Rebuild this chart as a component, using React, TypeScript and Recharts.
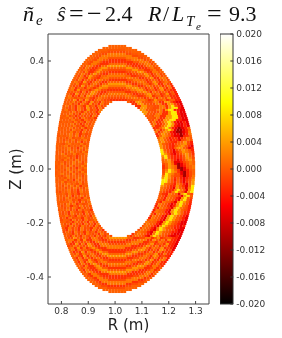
import { ScatterChart, Scatter, XAxis, YAxis, BarChart, Bar } from 'recharts'

// fluctuation level for each digit used in the map rows below
const LEVELS = [-0.0105, -0.0065, -0.0035, -0.0025, -0.001, -0.0002, 0.0004, 0.0018, 0.0036, 0.0085]

const R_TICKS = [0.8, 0.9, 1.0, 1.1, 1.2, 1.3]
const Z_TICKS = [-0.4, -0.2, 0.0, 0.2, 0.4]
const BAR_TICKS = [-0.02, -0.016, -0.012, -0.008, -0.004, 0, 0.004, 0.008, 0.012, 0.016, 0.02]

// matplotlib "hot"
const HOT_STOPS: [number, number[]][] = [
  [0, [0, 0, 0]],
  [0.365, [255, 0, 0]],
  [0.746, [255, 255, 0]],
  [1, [255, 255, 255]],
]

// Z of the first row and step between rows
const Z0 = 0.4556
const DZ = 0.007407
const PX_PER_R = 268.33

// boundary for the upper half, top to midplane (shape is up-down symmetric)
const OUTER_L = [
  0.975, 0.953, 0.936, 0.924, 0.914, 0.905, 0.896, 0.889, 0.883, 0.877, 0.871, 0.866, 0.861, 0.856, 0.852, 0.848,
  0.844, 0.84, 0.836, 0.833, 0.83, 0.827, 0.824, 0.821, 0.818, 0.816, 0.813, 0.811, 0.809, 0.807, 0.804, 0.803,
  0.801, 0.799, 0.797, 0.795, 0.794, 0.793, 0.791, 0.79, 0.789, 0.787, 0.787, 0.785, 0.784, 0.783, 0.782, 0.782,
  0.781, 0.78, 0.779, 0.779, 0.779, 0.778, 0.778, 0.777, 0.777, 0.777, 0.776, 0.776, 0.776, 0.776,
]
const OUTER_R = [
  1.041, 1.062, 1.082, 1.097, 1.108, 1.119, 1.129, 1.138, 1.147, 1.154, 1.161, 1.168, 1.175, 1.181, 1.187, 1.192,
  1.198, 1.203, 1.208, 1.213, 1.217, 1.222, 1.226, 1.23, 1.234, 1.237, 1.241, 1.245, 1.248, 1.251, 1.254, 1.257,
  1.26, 1.262, 1.265, 1.267, 1.27, 1.272, 1.274, 1.276, 1.278, 1.28, 1.282, 1.283, 1.285, 1.286, 1.287, 1.289,
  1.29, 1.291, 1.292, 1.293, 1.294, 1.295, 1.296, 1.296, 1.297, 1.297, 1.298, 1.298, 1.298, 1.298,
]
// hole edges, from row 28 on
const HOLE_FIRST_ROW = 28
const HOLE_L = [
  0.989, 0.977, 0.968, 0.96, 0.953, 0.947, 0.942, 0.937, 0.933, 0.93, 0.926, 0.923, 0.92, 0.917, 0.915, 0.913,
  0.911, 0.909, 0.907, 0.906, 0.904, 0.903, 0.902, 0.901, 0.9, 0.899, 0.898, 0.897, 0.896, 0.896, 0.896, 0.895,
  0.895, 0.895,
]
const HOLE_R = [
  1.044, 1.061, 1.074, 1.083, 1.092, 1.1, 1.106, 1.112, 1.118, 1.123, 1.128, 1.132, 1.136, 1.14, 1.144, 1.147,
  1.15, 1.153, 1.156, 1.159, 1.161, 1.163, 1.165, 1.167, 1.168, 1.169, 1.171, 1.172, 1.173, 1.173, 1.174, 1.175,
  1.175, 1.175,
]

// one row per Z: cells across the span, or left and right of the hole
const ROWS: string[][] = [
  ['666666'],
  ['6666666666'],
  ['6665555556666'],
  ['665544444455666'],
  ['66544777777445566'],
  ['6654777777777744556'],
  ['665477755555577774456'],
  ['66547755333333557777456'],
  ['65477533333333335577745'],
  ['6647753336666663333557746'],
  ['65775336688888866333357756'],
  ['64753368866666688663335745'],
  ['6575336866444444668866335746'],
  ['664733686443333334466886337756'],
  ['657536864336666663344668635745'],
  ['6473686436677777766334468635746'],
  ['65753864367755555577663346833775'],
  ['64736643675533333355776634663574'],
  ['675384367533666666335577634863575'],
  ['65736636753668888886633557636833743'],
  ['64538467536887777778866335764663573'],
  ['67366375368774444447788663573486372'],
  ['673846536874433333344778863563683532'],
  ['556637368743355555533447786376466352'],
  ['6438465687435577777755334478657348352'],
  ['67363738743577666666775533478356366332'],
  ['67646567435766444444667755347637648332'],
  ['655837384357644333333446677534865736622'],
  ['565746375384637456', '6338855447733884211'],
  ['6574637538463745', '33885544773388421'],
  ['574637538463745', '3388554477389521'],
  ['65463753846374', '388554477389921'],
  ['5746375384637', '8855447738992211'],
  ['65657463754637', '885544733899211'],
  ['5657463755463', '85547733899211'],
  ['6574635546375', '55477338899211'],
  ['565746375463', '5547338899211'],
  ['656574637546', '5473388992211'],
  ['565647463756', '4733689821121'],
  ['656574635646', '5733689821121'],
  ['565657463756', '733689821121'],
  ['656574647365', '336897210126'],
  ['565647563746', '4736897100126'],
  ['65657463756', '736872100127'],
  ['56567473645', '368752110127'],
  ['56567573645', '368752110236'],
  ['65647465756', '687523312475'],
  ['56465746575', '786423314575'],
  ['56575647365', '78643256842'],
  ['65467565746', '86432467842'],
  ['65674656475', '86432578631'],
  ['56567463756', '864326886412'],
  ['65657565647', '96431468752'],
  ['56465756475', '97431368753'],
  ['56746574657', '98521347863'],
  ['65675463566', '89632235864'],
  ['65657463566', '79632235874'],
  ['56475647565', '67842124786'],
  ['65646575746', '67851124676'],
  ['65746575647', '46861013576'],
  ['56564746575', '36875012567'],
  ['56567463657', '35875001467'],
  ['65647565746', '47986301256'],
  ['56565746475', '48987310246'],
  ['56756474657', '59874410246'],
  ['65467565646', '79864420247'],
  ['65647565756', '89863521247'],
  ['56574637565', '99752631358'],
  ['65746565746', '99753631358'],
  ['65657564746', '97642752168'],
  ['56475747365', '87532863169'],
  ['65646575647', '76431864179'],
  ['56567463756', '764327975189'],
  ['54657463756', '64327975189'],
  ['65647463656', '53276518964'],
  ['65647365746', '54276531896'],
  ['56475646375', '642765218964'],
  ['65467463657', '542765218963'],
  ['65657463746', '427653189863'],
  ['56475736457', '376531289752'],
  ['64573647564', '276531289752'],
  ['654647537465', '4276531897642'],
  ['565746374653', '276521898642'],
  ['646375463745', '376521898632'],
  ['546375463745', '5276521898632'],
  ['657463745637', '3765218986421'],
  ['463745637457', '2765218986421'],
  ['465374637457', '5765218986421'],
  ['5646375463745', '76652189864311'],
  ['6463745374637', '67652189864211'],
  ['65374637546374', '576521798643212'],
  ['5374637453746', '4765217986542211'],
  ['53746374537463', '476521798654211'],
  ['465374637463754', '6765217986542211'],
  ['5653746375463745', '36765217986542111'],
  ['653746375463745374', '6367652179865421121'],
  ['644864663774366888888663344773683465321'],
  ['67737383377433666666334477733864738321'],
  ['67356466337744333333447777336637653321'],
  ['6338373863377744444477773336834638321'],
  ['447564686337777777777333368647357321'],
  ['673837368633377777733336686376583421'],
  ['67375643686333333333366886346387341'],
  ['63438374368663333336688663473573432'],
  ['64737567436886666668866334765833732'],
  ['674383674366888888663344763873432'],
  ['63737536743366666633447763573472'],
  ['64743853674433333344776635833772'],
  ['6373785367744444477663358734732'],
  ['647437853667777776633558734733'],
  ['663733785336666663355887337743'],
  ['6474337855333333558877334736'],
  ['63743378855555588773334734'],
  ['64774337788888877333347746'],
  ['6637743337777773333447736'],
  ['64377433333333334477734'],
  ['66437744333333447777346'],
  ['664377744444477773346'],
  ['6643777777777733446'],
  ['66433777777334466'],
  ['664433333344666'],
  ['6664444446666'],
  ['6666666666'],
  ['666666'],
]

type MapPoint = { R: number; Z: number; v: number; w: number }

function spanCells(cells: string, a: number, b: number, Z: number, out: MapPoint[]) {
  const w = (b - a) / cells.length
  for (let c = 0; c < cells.length; c++) {
    out.push({ R: a + (c + 0.5) * w, Z, v: LEVELS[Number(cells[c])], w })
  }
}

const CELLS = ROWS.flatMap((row, n) => {
  const out: MapPoint[] = []
  const u = Math.min(n, ROWS.length - 1 - n) // same boundary above and below the midplane
  const Z = Z0 - n * DZ
  if (row.length === 1) {
    spanCells(row[0], OUTER_L[u], OUTER_R[u], Z, out)
  } else {
    spanCells(row[0], OUTER_L[u], HOLE_L[u - HOLE_FIRST_ROW], Z, out)
    spanCells(row[1], HOLE_R[u - HOLE_FIRST_ROW], OUTER_R[u], Z, out)
  }
  return out
})

function hotColor(v: number) {
  const f = (v + 0.02) / 0.04
  for (let i = 1; i < HOT_STOPS.length; i++) {
    const [f1, c1] = HOT_STOPS[i]
    const [f0, c0] = HOT_STOPS[i - 1]
    if (f <= f1) {
      const t = (f - f0) / (f1 - f0)
      const m = c0.map((a, k) => Math.round(a + (c1[k] - a) * t))
      return `rgb(${m[0]},${m[1]},${m[2]})`
    }
  }
  return '#fff'
}

function MapCell(props: any) {
  const px = props.payload.w * PX_PER_R
  return (
    <rect
      x={props.cx - px / 2}
      y={props.cy - 1.05}
      width={px + 0.1}
      height={2.1}
      fill={hotColor(props.payload.v)}
    />
  )
}

const tickStyle = { fontSize: 9, fill: '#333', fontFamily: 'DejaVu Sans' }
const labelStyle = { fontSize: 15, fill: '#222', fontFamily: 'DejaVu Sans' }
const mathFont = 'Liberation Serif'

function Title() {
  const big = { fontSize: 22, fontFamily: mathFont, fill: '#111' }
  const it = { ...big, fontStyle: 'italic' }
  return (
    <svg width={282} height={34} style={{ position: 'absolute', left: 0, top: 0 }}>
      <text x={23} y={21} {...it}>ñ</text>
      <text x={36} y={25} {...it} fontSize={15}>e</text>
      <text x={57} y={21} {...it}>ŝ</text>
      <text x={69} y={22} {...big} fontSize={26}>=</text>
      <text x={87} y={22} {...big} fontSize={26}>−</text>
      <text x={105} y={21} {...big}>2.4</text>
      <text x={148} y={21} {...it}>R</text>
      <text x={163} y={21} {...big}>/</text>
      <text x={172} y={21} {...it}>L</text>
      <text x={186} y={26} {...it} fontSize={15}>T</text>
      <text x={196} y={30} {...it} fontSize={11}>e</text>
      <text x={207} y={22} {...big} fontSize={26}>=</text>
      <text x={229} y={21} {...big}>9.3</text>
    </svg>
  )
}

const BAR_DATA = [{ name: 'n', range: [-0.02, 0.02] }]

export default function App() {
  return (
    <div style={{ position: 'absolute', left: 0, top: 0, width: 282, height: 338, filter: 'blur(0.3px)' }}>
      <style>{`.map-cells { filter: blur(0.5px); }`}</style>
      <Title />

      {/* Map */}
      <div style={{ position: 'absolute', left: 0, top: 0 }}>
        <ScatterChart width={282} height={338} margin={{ top: 33, right: 72, bottom: 0, left: 0 }}>
          <XAxis
            type="number"
            dataKey="R"
            domain={[0.75, 1.35]}
            ticks={R_TICKS}
            interval={0}
            tickFormatter={(v) => v.toFixed(1)}
            height={34}
            tickSize={-3}
            tickMargin={7}
            tick={tickStyle}
            stroke="#444"
            label={{ value: 'R (m)', position: 'insideBottom', offset: 8, style: labelStyle }}
          />
          <YAxis
            type="number"
            dataKey="Z"
            domain={[-0.5, 0.5]}
            ticks={Z_TICKS}
            interval={0}
            tickFormatter={(v) => v.toFixed(1)}
            width={48}
            tickSize={-3}
            tickMargin={7}
            tick={tickStyle}
            stroke="#444"
            label={{ value: 'Z (m)', angle: -90, position: 'insideLeft', offset: 16, style: { ...labelStyle, textAnchor: 'middle' } }}
          />
          <XAxis
            xAxisId="top"
            orientation="top"
            type="number"
            domain={[0.75, 1.35]}
            ticks={R_TICKS}
            interval={0}
            height={1}
            tickSize={-3}
            tickFormatter={() => ''}
            stroke="#444"
          />
          <YAxis
            yAxisId="right"
            orientation="right"
            type="number"
            domain={[-0.5, 0.5]}
            ticks={Z_TICKS}
            interval={0}
            width={1}
            tickSize={-3}
            tickFormatter={() => ''}
            stroke="#444"
          />
          <Scatter data={CELLS} isAnimationActive={false} shape={MapCell} className="map-cells" />
          <Scatter data={[]} xAxisId="top" yAxisId="right" isAnimationActive={false} />
        </ScatterChart>
      </div>

      {/* Colour bar */}
      <div style={{ position: 'absolute', left: 220, top: 0 }}>
        <BarChart
          width={62}
          height={338}
          data={BAR_DATA}
          barCategoryGap={0}
          margin={{ top: 34, right: 0, bottom: 34, left: 0 }}
        >
          <defs>
            <linearGradient id="hotBar" x1="0" y1="1" x2="0" y2="0">
              {HOT_STOPS.map(([f, c]) => (
                <stop key={f} offset={f} stopColor={`rgb(${c.join(',')})`} />
              ))}
            </linearGradient>
          </defs>
          <XAxis dataKey="name" hide />
          <YAxis
            orientation="right"
            type="number"
            domain={[-0.02, 0.02]}
            ticks={BAR_TICKS}
            interval={0}
            tickFormatter={(v) => v.toFixed(3)}
            width={48.7}
            axisLine={false}
            tickSize={-3}
            tickMargin={6}
            tick={tickStyle}
            stroke="#333"
          />
          <Bar dataKey="range" fill="url(#hotBar)" stroke="#333" isAnimationActive={false} />
        </BarChart>
      </div>
    </div>
  )
}
